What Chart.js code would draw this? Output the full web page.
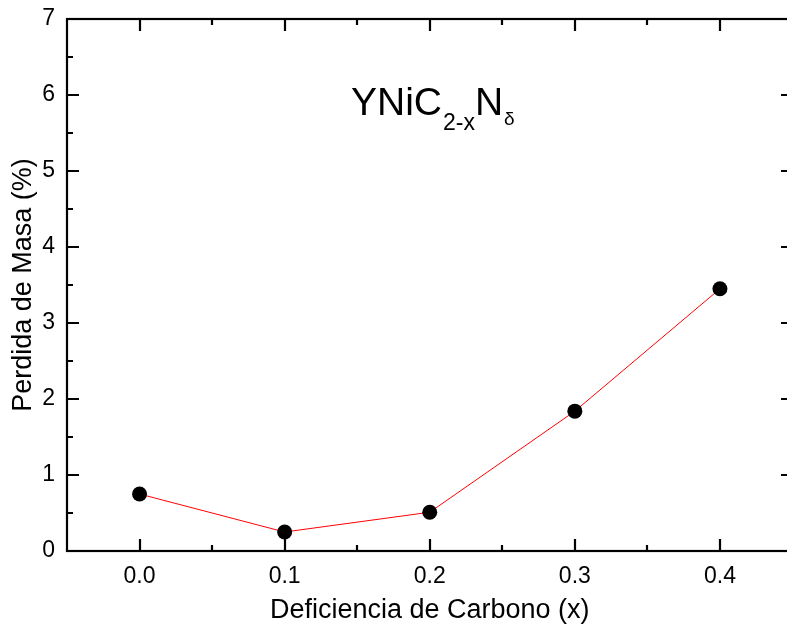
<!DOCTYPE html>
<html>
<head>
<meta charset="utf-8">
<script src="https://cdn.jsdelivr.net/npm/chart.js@4/dist/chart.umd.min.js"></script>
<style>
  html, body { margin: 0; padding: 0; background: #fff; overflow: hidden; }
  #wrap { width: 800px; height: 630px; }
</style>
</head>
<body>
<div id="wrap"><canvas id="c" width="800" height="630"></canvas></div>
<script>
// Carbon deficiency x and measured mass loss (%)
const deficiency = [0.0, 0.1, 0.2, 0.3, 0.4];
const massLoss = [0.75, 0.25, 0.51, 1.84, 3.45];
const xTickValues = [0.0, 0.1, 0.2, 0.3, 0.4];
const xMinorValues = [0.05, 0.15, 0.25, 0.35];
const yTickValues = [0, 1, 2, 3, 4, 5, 6, 7];
const yMinorValues = [0.5, 1.5, 2.5, 3.5, 4.5, 5.5, 6.5];

const FONT = "'Liberation Sans', Arial, Helvetica, sans-serif";

// Boxed frame with inward ticks on all four sides, plus the formula label
const framePlugin = {
  id: 'frame',
  afterDatasetsDraw(chart) {
    const ctx = chart.ctx;
    const a = chart.chartArea;
    const xs = chart.scales.x, ys = chart.scales.y;
    const L = Math.round(a.left), R = Math.round(a.right);
    const T = Math.round(a.top), B = Math.round(a.bottom);
    ctx.save();
    ctx.strokeStyle = '#000';
    ctx.lineWidth = 2.2;
    ctx.strokeRect(L, T, R - L, B - T);
    ctx.beginPath();
    const major = 12, minor = 6;
    xTickValues.forEach(v => {
      const px = Math.round(xs.getPixelForValue(v));
      ctx.moveTo(px, B); ctx.lineTo(px, B - major);
      ctx.moveTo(px, T); ctx.lineTo(px, T + major);
    });
    xMinorValues.forEach(v => {
      const px = Math.round(xs.getPixelForValue(v));
      ctx.moveTo(px, B); ctx.lineTo(px, B - minor);
      ctx.moveTo(px, T); ctx.lineTo(px, T + minor);
    });
    yTickValues.forEach(v => {
      const py = Math.round(ys.getPixelForValue(v));
      ctx.moveTo(L, py); ctx.lineTo(L + major, py);
      ctx.moveTo(R, py); ctx.lineTo(R - major, py);
    });
    yMinorValues.forEach(v => {
      const py = Math.round(ys.getPixelForValue(v));
      ctx.moveTo(L, py); ctx.lineTo(L + minor, py);
      ctx.moveTo(R, py); ctx.lineTo(R - minor, py);
    });
    ctx.stroke();

    // YNiC(2-x)N(delta)
    ctx.fillStyle = '#000';
    ctx.textBaseline = 'alphabetic';
    ctx.textAlign = 'left';
    let x = 351;
    const base = 115;
    ctx.font = '39px ' + FONT;
    ctx.fillText('YNiC', x, base);
    x += ctx.measureText('YNiC').width;
    ctx.font = '23px ' + FONT;
    ctx.fillText('2-x', x + 1, base + 15);
    x += ctx.measureText('2-x').width + 1;
    ctx.font = '39px ' + FONT;
    ctx.fillText('N', x, base);
    x += ctx.measureText('N').width;
    ctx.font = '19px ' + FONT;
    ctx.fillText('\u03B4', x + 1, base + 10);
    ctx.restore();
  }
};

new Chart(document.getElementById('c'), {
  type: 'line',
  data: {
    datasets: [{
      data: deficiency.map((d, i) => ({ x: d, y: massLoss[i] })),
      borderColor: '#ff0000',
      borderWidth: 1,
      pointBackgroundColor: '#000',
      pointBorderColor: '#000',
      pointBorderWidth: 0,
      pointRadius: 7.5,
      tension: 0,
      fill: false
    }]
  },
  options: {
    responsive: false,
    animation: false,
    events: [],
    layout: { padding: { top: 19, right: 6, left: 0, bottom: 0 } },
    plugins: { legend: { display: false }, tooltip: { enabled: false } },
    scales: {
      x: {
        type: 'linear',
        min: -0.05,
        max: 0.45,
        grid: { display: false, drawTicks: false },
        border: { display: false },
        afterBuildTicks(s) { s.ticks = xTickValues.map(v => ({ value: v })); },
        afterFit(s) { s.height = 79; s.paddingLeft = 0; s.paddingRight = 0; },
        ticks: {
          color: '#000',
          font: { family: FONT, size: 23, lineHeight: 1 },
          padding: 14,
          maxRotation: 0,
          callback: v => Number(v).toFixed(1)
        },
        title: {
          display: true,
          text: 'Deficiencia de Carbono (x)',
          color: '#000',
          font: { family: FONT, size: 27 },
          padding: { top: 0, bottom: 3 }
        }
      },
      y: {
        type: 'linear',
        min: 0,
        max: 7,
        grid: { display: false, drawTicks: false },
        border: { display: false },
        afterBuildTicks(s) { s.ticks = yTickValues.map(v => ({ value: v })); },
        afterFit(s) { s.width = 67; s.paddingTop = 0; s.paddingBottom = 0; },
        ticks: {
          color: '#000',
          font: { family: FONT, size: 23, lineHeight: 1 },
          padding: 12,
          callback: v => String(v)
        },
        title: {
          display: true,
          text: 'Perdida de Masa (%)',
          color: '#000',
          font: { family: FONT, size: 27 },
          padding: { top: 7, bottom: 0 }
        }
      }
    }
  },
  plugins: [framePlugin]
});
</script>
</body>
</html>
